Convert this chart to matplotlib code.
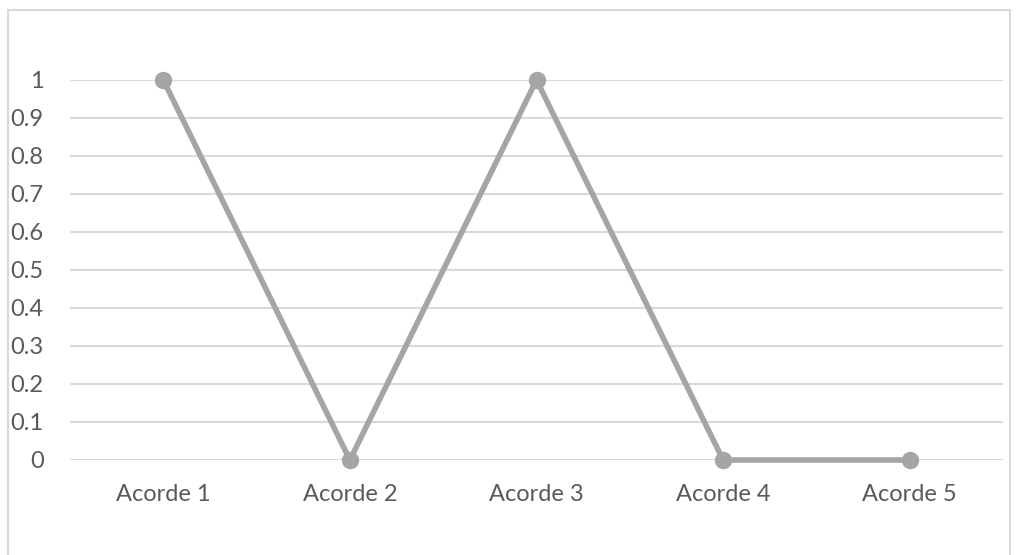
import matplotlib
matplotlib.use("Agg")
import matplotlib.pyplot as plt
from matplotlib.lines import Line2D

categories = ["Acorde 1", "Acorde 2", "Acorde 3", "Acorde 4", "Acorde 5"]
values = [1, 0, 1, 0, 0]
y_ticks = [0, 0.1, 0.2, 0.3, 0.4, 0.5, 0.6, 0.7, 0.8, 0.9, 1]
y_tick_labels = ["0", "0.1", "0.2", "0.3", "0.4", "0.5", "0.6", "0.7", "0.8", "0.9", "1"]

W, H = 1016, 555
fig = plt.figure(figsize=(W / 100, H / 100), dpi=100)
plt.rcParams["font.family"] = ["Lato", "DejaVu Sans"]

# chart border
border = "#D9D9D9"
for xs, ys in [([8, 8], [10, H + 5]), ([8, 1010], [10, 10]), ([1010, 1010], [10, H + 5])]:
    fig.add_artist(Line2D([x / W for x in xs], [1 - y / H for y in ys],
                          transform=fig.transFigure, color=border, lw=1.5))

ax = fig.add_axes([70 / W, 1 - 460 / H, (1003 - 70) / W, (460 - 80) / H])
x = list(range(len(categories)))
ax.plot(x, values, color="#A5A5A5", lw=4, marker="o", markersize=11.5,
        solid_capstyle="round", zorder=3, clip_on=False)

ax.set_xlim(-0.5, len(categories) - 0.5)
ax.set_ylim(0, 1)
ax.set_yticks(y_ticks)
ax.set_yticklabels(y_tick_labels)
ax.set_xticks(x)
ax.set_xticklabels(categories)
ax.grid(axis="y", color="#D9D9D9", lw=1.5)
ax.set_axisbelow(True)
for s in ax.spines.values():
    s.set_visible(False)
ax.tick_params(axis="both", length=0, labelsize=17, labelcolor="#595959")
ax.tick_params(axis="y", pad=19)
ax.tick_params(axis="x", pad=17.5)
for lab in ax.get_yticklabels():
    lab.set_horizontalalignment("right")

fig.savefig("out.png", dpi=100)
